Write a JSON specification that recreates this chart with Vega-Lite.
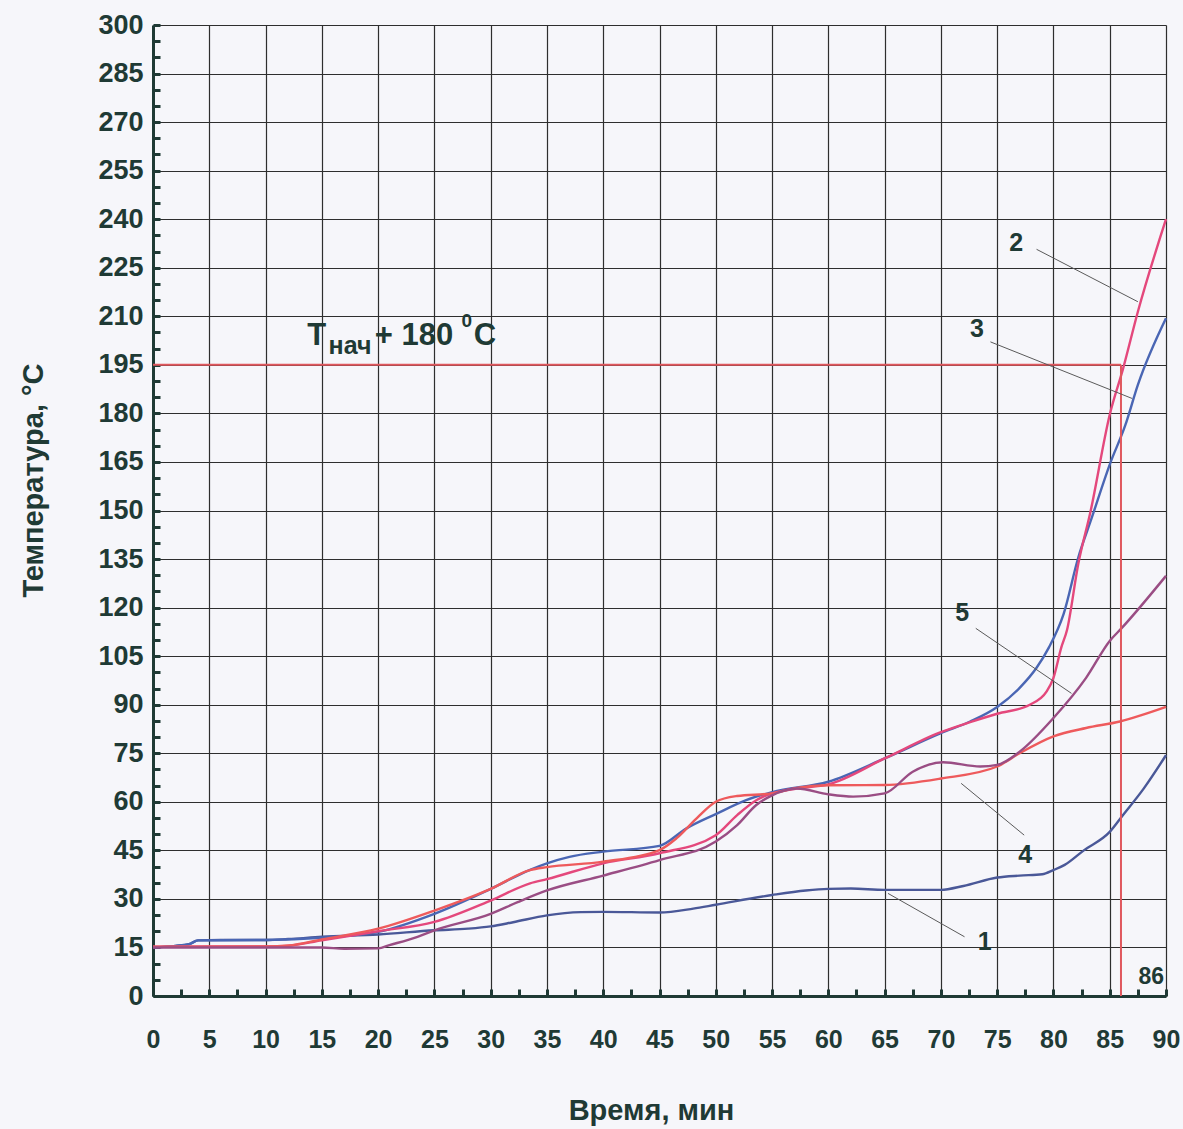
{
  "$schema": "https://vega.github.io/schema/vega-lite/v6.json",
  "width": 1013,
  "height": 971,
  "autosize": {"type": "none"},
  "padding": {"left": 153, "top": 25, "right": 17, "bottom": 133},
  "background": "#f6f6fa",
  "config": {"view": {"stroke": null}, "font": "Liberation Sans"},
  "datasets": {
    "curves": [
      {"c": "1", "t": 0, "v": 15}, {"c": "1", "t": 2, "v": 15.5}, {"c": "1", "t": 3.2, "v": 16}, {"c": "1", "t": 4, "v": 17.2},
      {"c": "1", "t": 6, "v": 17.3}, {"c": "1", "t": 10, "v": 17.3}, {"c": "1", "t": 12, "v": 17.6}, {"c": "1", "t": 15, "v": 18.3},
      {"c": "1", "t": 20, "v": 19}, {"c": "1", "t": 25, "v": 20.3}, {"c": "1", "t": 28, "v": 20.8}, {"c": "1", "t": 30, "v": 21.5},
      {"c": "1", "t": 32, "v": 22.8}, {"c": "1", "t": 35, "v": 24.9}, {"c": "1", "t": 38, "v": 25.9}, {"c": "1", "t": 40, "v": 26},
      {"c": "1", "t": 45, "v": 25.8}, {"c": "1", "t": 48, "v": 27}, {"c": "1", "t": 50, "v": 28.2}, {"c": "1", "t": 55, "v": 31.2},
      {"c": "1", "t": 58, "v": 32.6}, {"c": "1", "t": 60, "v": 33.1}, {"c": "1", "t": 62, "v": 33.2}, {"c": "1", "t": 65, "v": 32.8},
      {"c": "1", "t": 70, "v": 32.8}, {"c": "1", "t": 72, "v": 34}, {"c": "1", "t": 75, "v": 36.6}, {"c": "1", "t": 77, "v": 37.2},
      {"c": "1", "t": 79, "v": 37.6}, {"c": "1", "t": 80, "v": 38.9}, {"c": "1", "t": 81, "v": 40.5}, {"c": "1", "t": 82.7, "v": 45},
      {"c": "1", "t": 85, "v": 50.7}, {"c": "1", "t": 86.2, "v": 56}, {"c": "1", "t": 88, "v": 64}, {"c": "1", "t": 90, "v": 74.4},

      {"c": "3", "t": 0, "v": 15}, {"c": "3", "t": 2, "v": 15.5}, {"c": "3", "t": 3.2, "v": 16}, {"c": "3", "t": 4, "v": 17.2},
      {"c": "3", "t": 10, "v": 17.3}, {"c": "3", "t": 15, "v": 18}, {"c": "3", "t": 20, "v": 19.8}, {"c": "3", "t": 25, "v": 25.4},
      {"c": "3", "t": 30, "v": 33.1}, {"c": "3", "t": 33.5, "v": 39}, {"c": "3", "t": 35, "v": 41}, {"c": "3", "t": 37, "v": 43},
      {"c": "3", "t": 40, "v": 44.6}, {"c": "3", "t": 45, "v": 46.4}, {"c": "3", "t": 47.4, "v": 51.8}, {"c": "3", "t": 50, "v": 56.2},
      {"c": "3", "t": 52.7, "v": 60.5}, {"c": "3", "t": 55, "v": 63}, {"c": "3", "t": 60, "v": 66.2}, {"c": "3", "t": 65, "v": 73.4},
      {"c": "3", "t": 70, "v": 81.2}, {"c": "3", "t": 72.6, "v": 84.8}, {"c": "3", "t": 75, "v": 89.3}, {"c": "3", "t": 77, "v": 95.2},
      {"c": "3", "t": 78.5, "v": 101.4}, {"c": "3", "t": 79.6, "v": 107.7}, {"c": "3", "t": 80.9, "v": 118}, {"c": "3", "t": 82.2, "v": 135.4},
      {"c": "3", "t": 83.4, "v": 147.7}, {"c": "3", "t": 85, "v": 164.2}, {"c": "3", "t": 86.4, "v": 176.5}, {"c": "3", "t": 87.5, "v": 188.8},
      {"c": "3", "t": 90, "v": 209.4},

      {"c": "2", "t": 0, "v": 15.2}, {"c": "2", "t": 5, "v": 15.3}, {"c": "2", "t": 10, "v": 15.3}, {"c": "2", "t": 12, "v": 15.5},
      {"c": "2", "t": 15, "v": 17.2}, {"c": "2", "t": 20, "v": 20}, {"c": "2", "t": 25, "v": 22.9}, {"c": "2", "t": 30, "v": 29.5},
      {"c": "2", "t": 33.5, "v": 34.8}, {"c": "2", "t": 35, "v": 36.1}, {"c": "2", "t": 40, "v": 41}, {"c": "2", "t": 45, "v": 44.1},
      {"c": "2", "t": 50, "v": 49.7}, {"c": "2", "t": 51.9, "v": 55.9}, {"c": "2", "t": 53.6, "v": 60.5}, {"c": "2", "t": 55, "v": 62.6},
      {"c": "2", "t": 57.2, "v": 64.1}, {"c": "2", "t": 60, "v": 65.4}, {"c": "2", "t": 65, "v": 73.4}, {"c": "2", "t": 70, "v": 81.5},
      {"c": "2", "t": 72.6, "v": 84.6}, {"c": "2", "t": 75, "v": 87.2}, {"c": "2", "t": 77.9, "v": 90}, {"c": "2", "t": 79.4, "v": 94.1},
      {"c": "2", "t": 80, "v": 98.3}, {"c": "2", "t": 80.7, "v": 107.7}, {"c": "2", "t": 81.2, "v": 113}, {"c": "2", "t": 82.2, "v": 133.4},
      {"c": "2", "t": 83.3, "v": 149.8}, {"c": "2", "t": 85, "v": 179.6}, {"c": "2", "t": 86.2, "v": 194}, {"c": "2", "t": 87.5, "v": 211.4},
      {"c": "2", "t": 90, "v": 240},

      {"c": "4", "t": 0, "v": 15.2}, {"c": "4", "t": 10, "v": 15.3}, {"c": "4", "t": 12, "v": 15.6}, {"c": "4", "t": 15, "v": 17.5},
      {"c": "4", "t": 20, "v": 20.8}, {"c": "4", "t": 25, "v": 26.4}, {"c": "4", "t": 30, "v": 33.1}, {"c": "4", "t": 33.5, "v": 38.9},
      {"c": "4", "t": 35, "v": 39.8}, {"c": "4", "t": 40, "v": 41.5}, {"c": "4", "t": 45, "v": 45.1}, {"c": "4", "t": 46.5, "v": 48.7},
      {"c": "4", "t": 48.3, "v": 54.9}, {"c": "4", "t": 50, "v": 60}, {"c": "4", "t": 51.9, "v": 61.8}, {"c": "4", "t": 55, "v": 62.6},
      {"c": "4", "t": 57.2, "v": 64.3}, {"c": "4", "t": 60, "v": 65.1}, {"c": "4", "t": 65, "v": 65.2}, {"c": "4", "t": 70, "v": 67.2},
      {"c": "4", "t": 75, "v": 70.9}, {"c": "4", "t": 77, "v": 75}, {"c": "4", "t": 80, "v": 80.2}, {"c": "4", "t": 82.9, "v": 82.8},
      {"c": "4", "t": 85.9, "v": 84.8}, {"c": "4", "t": 90, "v": 89.3},

      {"c": "5", "t": 0, "v": 15}, {"c": "5", "t": 5, "v": 15}, {"c": "5", "t": 10, "v": 15}, {"c": "5", "t": 15, "v": 15},
      {"c": "5", "t": 17, "v": 14.6}, {"c": "5", "t": 20, "v": 14.7}, {"c": "5", "t": 21, "v": 15.7}, {"c": "5", "t": 23.5, "v": 18.3},
      {"c": "5", "t": 25, "v": 20.3}, {"c": "5", "t": 30, "v": 25.4}, {"c": "5", "t": 32.4, "v": 29}, {"c": "5", "t": 35, "v": 32.6},
      {"c": "5", "t": 40, "v": 37.2}, {"c": "5", "t": 45, "v": 42}, {"c": "5", "t": 50, "v": 47.7}, {"c": "5", "t": 51.9, "v": 52.8},
      {"c": "5", "t": 53.6, "v": 59}, {"c": "5", "t": 55, "v": 62}, {"c": "5", "t": 57.2, "v": 64.1}, {"c": "5", "t": 60, "v": 62.3},
      {"c": "5", "t": 62.2, "v": 61.6}, {"c": "5", "t": 65, "v": 62.6}, {"c": "5", "t": 67.5, "v": 69.3}, {"c": "5", "t": 70.2, "v": 72.2},
      {"c": "5", "t": 73.5, "v": 70.9}, {"c": "5", "t": 75, "v": 71.4}, {"c": "5", "t": 77, "v": 75.5}, {"c": "5", "t": 80, "v": 85.9},
      {"c": "5", "t": 82.9, "v": 98.3}, {"c": "5", "t": 85, "v": 109.7}, {"c": "5", "t": 86.1, "v": 113.8}, {"c": "5", "t": 90, "v": 129.8}
    ],
    "leaders": [
      {"n": "1", "t": 65.3, "v": 31.7, "t2": 72.1, "v2": 18.3},
      {"n": "2", "t": 78.5, "v": 230.7, "t2": 87.5, "v2": 214.5},
      {"n": "3", "t": 74.4, "v": 202.1, "t2": 87.0, "v2": 184.6},
      {"n": "4", "t": 71.8, "v": 65.7, "t2": 77.4, "v2": 49.7},
      {"n": "5", "t": 73.1, "v": 113.6, "t2": 81.6, "v2": 93.5}
    ],
    "numbers": [
      {"s": "1", "t": 73.9, "v": 16.8},
      {"s": "2", "t": 76.7, "v": 232.8},
      {"s": "3", "t": 73.2, "v": 206.2},
      {"s": "4", "t": 77.5, "v": 43.6},
      {"s": "5", "t": 71.9, "v": 118.3}
    ],
    "limit": [
      {"t": 0, "v": 195, "t2": 86, "v2": 195},
      {"t": 86, "v": 0, "t2": 86, "v2": 195}
    ],
    "caption": [
      {"s": "T", "t": 13.7, "v": 201.1, "sz": "big"},
      {"s": "нач", "t": 15.6, "v": 198.4, "sz": "sub"},
      {"s": "+ 180", "t": 19.7, "v": 201.1, "sz": "big"},
      {"s": "0", "t": 27.4, "v": 206.6, "sz": "sup"},
      {"s": "C", "t": 28.5, "v": 201.1, "sz": "big"}
    ]
  },
  "encoding": {
    "x": {
      "field": "t", "type": "quantitative",
      "scale": {"domain": [0, 90], "nice": false, "zero": false},
      "axis": {
        "title": "Время, мин",
        "values": [0, 2.5, 5, 7.5, 10, 12.5, 15, 17.5, 20, 22.5, 25, 27.5, 30, 32.5, 35, 37.5, 40, 42.5, 45, 47.5, 50, 52.5, 55, 57.5, 60, 62.5, 65, 67.5, 70, 72.5, 75, 77.5, 80, 82.5, 85, 87.5, 90],
        "labelExpr": "datum.value % 5 === 0 ? datum.label : ''",
        "labelFont": "Liberation Sans", "labelFontSize": 25, "labelFontWeight": "bold", "labelColor": "#1f3a35",
        "labelPadding": 38, "labelOverlap": false, "labelFlush": false,
        "tickSize": -7, "tickWidth": 3, "tickColor": "#1f3a35",
        "domainColor": "#1f3a35", "domainWidth": 3,
        "grid": true, "gridColor": "#2e2e2e", "gridWidth": 1.2,
        "gridOpacity": {"condition": {"test": "datum.value % 5 === 0", "value": 1}, "value": 0},
        "titleFont": "Liberation Sans", "titleFontSize": 29, "titleFontWeight": "bold", "titleColor": "#1f3a35",
        "titleX": 498, "titleY": 114, "titleBaseline": "middle", "titleAlign": "center"
      }
    },
    "y": {
      "field": "v", "type": "quantitative",
      "scale": {"domain": [0, 300], "nice": false, "zero": false},
      "axis": {
        "title": "Температура, °C",
        "values": [0, 5, 10, 15, 20, 25, 30, 35, 40, 45, 50, 55, 60, 65, 70, 75, 80, 85, 90, 95, 100, 105, 110, 115, 120, 125, 130, 135, 140, 145, 150, 155, 160, 165, 170, 175, 180, 185, 190, 195, 200, 205, 210, 215, 220, 225, 230, 235, 240, 245, 250, 255, 260, 265, 270, 275, 280, 285, 290, 295, 300],
        "labelExpr": "datum.value % 15 === 0 ? datum.label : ''",
        "labelFont": "Liberation Sans", "labelFontSize": 27, "labelFontWeight": "bold", "labelColor": "#1f3a35",
        "labelPadding": 17, "labelOverlap": false, "labelFlush": false,
        "tickSize": -7, "tickWidth": 3, "tickColor": "#1f3a35",
        "domainColor": "#1f3a35", "domainWidth": 3,
        "grid": true, "gridColor": "#2e2e2e", "gridWidth": 1.2,
        "gridOpacity": {"condition": {"test": "datum.value % 15 === 0", "value": 1}, "value": 0},
        "titleFont": "Liberation Sans", "titleFontSize": 29, "titleFontWeight": "bold", "titleColor": "#1f3a35",
        "titleX": -120, "titleY": 455, "titleAngle": -90, "titleBaseline": "middle", "titleAlign": "center"
      }
    }
  },
  "layer": [
    {
      "data": {"name": "curves"},
      "mark": {"type": "line", "interpolate": "monotone", "strokeWidth": 2.4},
      "encoding": {
        "color": {
          "field": "c", "type": "nominal", "legend": null,
          "scale": {"domain": ["1", "2", "3", "4", "5"], "range": ["#4a5898", "#e4487c", "#4a66b4", "#ee5a5c", "#9a4d84"]}
        }
      }
    },
    {
      "data": {"name": "limit"},
      "mark": {"type": "rule", "color": "#e0585e", "strokeWidth": 2},
      "encoding": {
        "x2": {"field": "t2"},
        "y2": {"field": "v2"}
      }
    },
    {
      "data": {"name": "leaders"},
      "mark": {"type": "rule", "color": "#5a5a5a", "strokeWidth": 1},
      "encoding": {
        "x2": {"field": "t2"},
        "y2": {"field": "v2"}
      }
    },
    {
      "data": {"name": "numbers"},
      "mark": {"type": "text", "font": "Liberation Sans", "fontSize": 25, "fontWeight": "bold", "color": "#1f3a35", "align": "center", "baseline": "middle"},
      "encoding": {
        "text": {"field": "s"}
      }
    },
    {
      "data": {"values": [{"s": "86", "t": 88.7, "v": 6.0}]},
      "mark": {"type": "text", "font": "Liberation Sans", "fontSize": 23, "fontWeight": "bold", "color": "#1f3a35", "align": "center", "baseline": "middle"},
      "encoding": {
        "text": {"field": "s"}
      }
    },
    {
      "data": {"name": "caption"},
      "mark": {"type": "text", "font": "Liberation Sans", "fontWeight": "bold", "color": "#1f3a35", "align": "left", "baseline": "alphabetic"},
      "encoding": {
        "text": {"field": "s"},
        "size": {
          "field": "sz", "type": "nominal", "legend": null,
          "scale": {"domain": ["big", "sub", "sup"], "range": [31, 19, 15]}
        }
      }
    }
  ]
}
